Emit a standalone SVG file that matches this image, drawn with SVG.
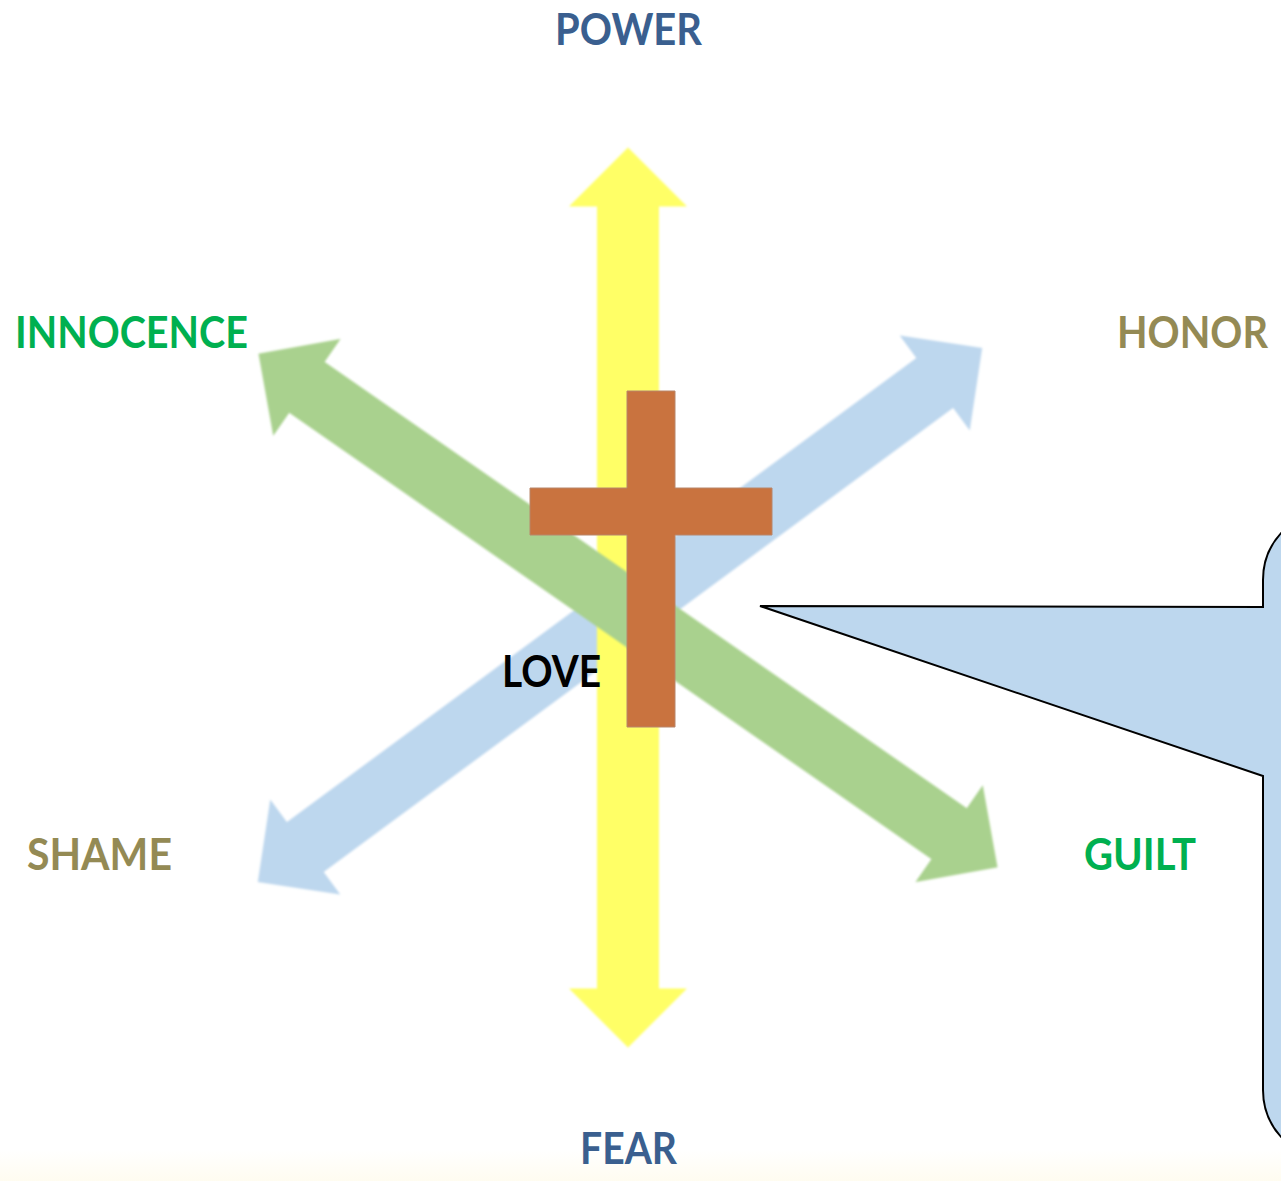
<svg xmlns="http://www.w3.org/2000/svg" width="1281" height="1181" viewBox="0 0 1281 1181">
<defs>
<style>
.lbl{font-family:Lato,"Open Sans","Liberation Sans",sans-serif;font-weight:700;font-size:43px}
.blue{fill:#3A5F8F}.green{fill:#00B050}.olive{fill:#948A54}.black{fill:#000}
.arrow{filter:url(#soft)}
</style>
<filter id="soft" x="-10%" y="-10%" width="120%" height="120%"><feGaussianBlur stdDeviation="1.1"/></filter>
<polygon id="dbl" points="-450,0 -391,-59 -391,-31 391,-31 391,-59 450,0 391,59 391,31 -391,31 -391,59"/>
<linearGradient id="bg" x1="0" y1="0" x2="0" y2="1">
<stop offset="0" stop-color="#FFFFFF"/><stop offset="1" stop-color="#FFFCF0"/>
</linearGradient>
</defs>
<rect x="0" y="0" width="1281" height="1181" fill="#FFFFFF"/>
<rect x="0" y="1150" width="1281" height="31" fill="url(#bg)"/>
<g id="connectors">
<use id="arrow-shame-honor" class="arrow" href="#dbl" fill="#BDD7EE" transform="translate(620,615) rotate(-36.4)"/>
<use id="arrow-power-fear" class="arrow" href="#dbl" fill="#FFFF66" transform="translate(628,597.5) rotate(90)"/>
<use id="arrow-innocence-guilt" class="arrow" href="#dbl" fill="#A9D18E" transform="translate(628,610.5) rotate(34.8)"/>
</g>
<g id="cross">
<polygon points="627,391 675,391 675,488 772,488 772,535 675,535 675,727 627,727 627,535 530,535 530,488 627,488" fill="#C9733F" stroke="#B8866A" stroke-width="1"/>
</g>
<g id="callout">
<path d="M 760 606 L 1263 607 L 1263 580 A 70 70 0 0 1 1333 510 L 1500 510 L 1500 1160 L 1333 1160 A 70 70 0 0 1 1263 1090 L 1263 776 Z" fill="#BDD7EE" stroke="#000" stroke-width="2" stroke-linejoin="miter"/>
</g>
<g id="power"><text class="lbl blue" x="555" y="45" textLength="147" lengthAdjust="spacingAndGlyphs">POWER</text></g>
<g id="innocence"><text class="lbl green" x="15" y="348" textLength="233" lengthAdjust="spacingAndGlyphs">INNOCENCE</text></g>
<g id="honor"><text class="lbl olive" x="1117" y="348" textLength="151" lengthAdjust="spacingAndGlyphs">HONOR</text></g>
<g id="love"><text class="lbl black" x="502" y="687" textLength="99" lengthAdjust="spacingAndGlyphs">LOVE</text></g>
<g id="shame"><text class="lbl olive" x="27" y="870" textLength="145" lengthAdjust="spacingAndGlyphs">SHAME</text></g>
<g id="guilt"><text class="lbl green" x="1084" y="870" textLength="112" lengthAdjust="spacingAndGlyphs">GUILT</text></g>
<g id="fear"><text class="lbl blue" x="580" y="1164" textLength="97" lengthAdjust="spacingAndGlyphs">FEAR</text></g>
</svg>
